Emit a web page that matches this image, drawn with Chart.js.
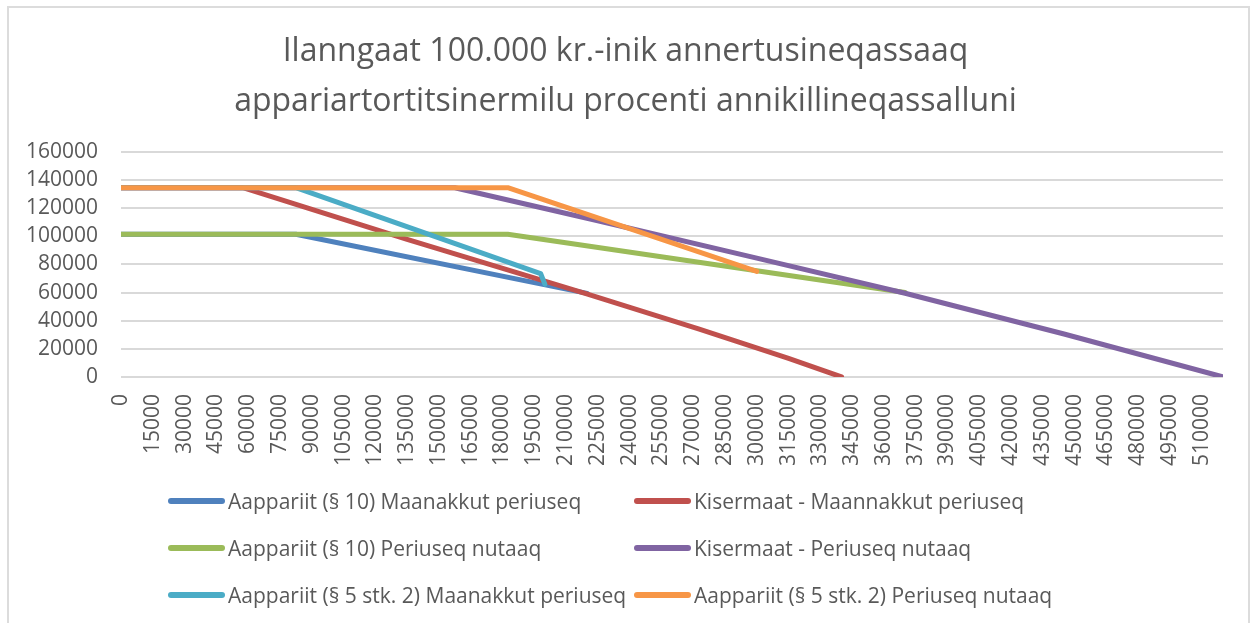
<!DOCTYPE html>
<html>
<head>
<meta charset="utf-8">
<script src="https://cdn.jsdelivr.net/npm/chart.js@4.4.1/dist/chart.umd.min.js"></script>
<style>
  html, body { margin: 0; padding: 0; background: #fff; }
  #frame { position: absolute; left: 7px; top: 6px; width: 1243px; height: 640px; border: 2px solid #dcdcdc; box-sizing: border-box; }
  #graf { position: absolute; left: 0; top: 0; }
  #legenda { position: absolute; left: 168px; top: 477px; display: grid; grid-template-columns: 466px auto; }
  .item { display: flex; align-items: center; height: 47px; font: 21px "Open Sans"; color: #595959; white-space: nowrap; }
  .amm { width: 57px; height: 6px; border-radius: 3px; margin-right: 3px; }
</style>
</head>
<body>
<div id="frame"></div>
<canvas id="graf" width="1251" height="623"></canvas>
<div id="legenda"></div>
<script>
/* DATA - x = indtægt, y = beløb */
const navne = [
  "Aappariit (§ 10) Maanakkut periuseq",
  "Kisermaat - Maannakkut periuseq",
  "Aappariit (§ 10) Periuseq nutaaq",
  "Kisermaat - Periuseq nutaaq",
  "Aappariit (§ 5 stk. 2) Maanakkut periuseq",
  "Aappariit (§ 5 stk. 2) Periuseq nutaaq"
];
const farver = ["#4F81BD", "#C0504D", "#9BBB59", "#8064A2", "#4BACC6", "#F79646"];

const aapp10NuX = [0, 82500, 220000];
const aapp10NuY = [101400, 101400, 59400];

const kisNuX = [0, 57500, 135000, 219000, 272500, 315000, 340000];
const kisNuY = [134500, 134500, 97800, 59400, 34200, 13200, 0];

const aapp10NyX = [0, 182500, 370000];
const aapp10NyY = [101400, 101400, 60000];

const kisNyX = [0, 157500, 225000, 300000, 370000, 445000, 520000];
const kisNyY = [134500, 134500, 111000, 84500, 59500, 30500, 0];

const aapp5NuX = [0, 82500, 198000, 200000];
const aapp5NuY = [134500, 134500, 73500, 66000];

const aapp5NyX = [0, 182500, 300000];
const aapp5NyY = [134500, 134500, 75000];

/* akser */
const xMaks = 520000, xTrin = 15000, xSidsteEtiket = 510000;
const yMaks = 160000, yTrin = 20000;

const titel = ["Ilanngaat 100.000 kr.-inik annertusineqassaaq",
               "appariartortitsinermilu procenti annikillineqassalluni"];

/* SERIER */
const xs = [aapp10NuX, kisNuX, aapp10NyX, kisNyX, aapp5NuX, aapp5NyX];
const ys = [aapp10NuY, kisNuY, aapp10NyY, kisNyY, aapp5NuY, aapp5NyY];

const datasets = navne.map((n, i) => ({
  label: n,
  data: xs[i].map((x, j) => ({x: x, y: ys[i][j]})),
  borderColor: farver[i],
  backgroundColor: farver[i],
  borderWidth: 5,
  borderCapStyle: "round",
  borderJoinStyle: "round",
  pointRadius: 0,
  tension: 0,
  order: navne.length - i   // Excel: sidste serie øverst
}));

const xTicks = [];
for (let v = 0; v <= xSidsteEtiket; v += xTrin) xTicks.push({value: v});
const yTicks = [];
for (let v = 0; v <= yMaks; v += yTrin) yTicks.push({value: v});

const font = "'Open Sans'";
const graa = "#595959";

new Chart(document.getElementById("graf"), {
  type: "line",
  data: { datasets: datasets },
  options: {
    responsive: false,
    animation: false,
    layout: { padding: { left: 28, right: 28, top: 0, bottom: 140 } },
    plugins: {
      legend: { display: false },
      tooltip: { enabled: false },
      title: {
        display: true,
        text: titel,
        color: graa,
        font: { family: font, size: 32, weight: "normal", lineHeight: 1.56 },
        padding: { top: 27, bottom: 25 }
      }
    },
    scales: {
      x: {
        type: "linear",
        min: 0, max: xMaks,
        afterBuildTicks: s => { s.ticks = xTicks.map(t => ({value: t.value})); },
        border: { display: false },
        grid: { display: false, drawTicks: false },
        ticks: {
          autoSkip: false,
          minRotation: 90, maxRotation: 90,
          padding: 17,
          color: graa,
          font: { family: font, size: 21 },
          callback: v => String(v)
        }
      },
      y: {
        min: 0, max: yMaks,
        afterBuildTicks: s => { s.ticks = yTicks.map(t => ({value: t.value})); },
        afterFit: s => { s.width = 93; },
        border: { display: false },
        grid: { color: "#d9d9d9", lineWidth: 2, drawTicks: false },
        ticks: {
          autoSkip: false,
          padding: 23,
          color: graa,
          font: { family: font, size: 21 },
          callback: v => String(v)
        }
      }
    }
  }
});

/* LEGENDA */
const legenda = document.getElementById("legenda");
navne.forEach((n, i) => {
  legenda.innerHTML += `<div class="item"><span class="amm" style="background:${farver[i]}"></span>${n}</div>`;
});
</script>
</body>
</html>
